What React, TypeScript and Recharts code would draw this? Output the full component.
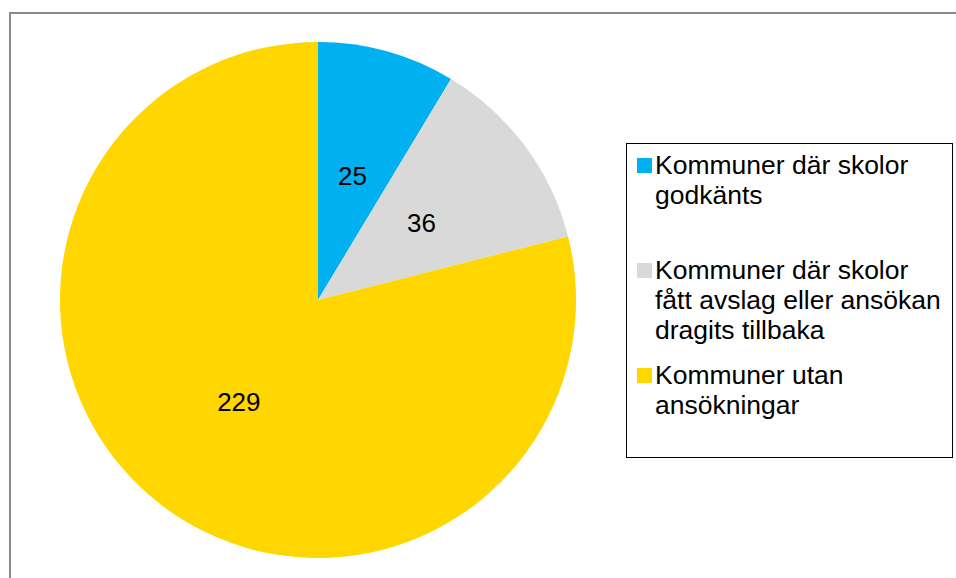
import React from 'react';
import { PieChart, Pie, Cell, Legend } from 'recharts';

const categories = [
  'Kommuner där skolor\ngodkänts',
  'Kommuner där skolor\nfått avslag eller ansökan\ndragits tillbaka',
  'Kommuner utan\nansökningar',
];
const values = [25, 36, 229];
const colors = ['#00B0F0', '#D9D9D9', '#FFD600'];

const data = categories.map((name, i) => ({ name, value: values[i] }));

const FONT = 'Arial, "Liberation Sans", sans-serif';
const RAD = Math.PI / 180;

const renderLabel = (props: any) => {
  const { cx, cy, midAngle, outerRadius, value } = props;
  const r = outerRadius * 0.5;
  const x = cx + r * Math.cos(-midAngle * RAD);
  const y = cy + r * Math.sin(-midAngle * RAD);
  return (
    <text
      x={x}
      y={y}
      fill="#000"
      textAnchor="middle"
      dominantBaseline="central"
      style={{ fontFamily: FONT, fontSize: 26 }}
    >
      {value}
    </text>
  );
};

const renderLegend = () => (
  <div
    style={{
      boxSizing: 'border-box',
      width: 327,
      height: 315,
      border: '1.5px solid #000',
      background: '#fff',
      paddingTop: 6,
      paddingLeft: 10,
      fontFamily: FONT,
      fontSize: 26.5,
      lineHeight: '30px',
      color: '#000',
    }}
  >
    {data.map((d, i) => (
      <div
        key={d.name}
        style={{ display: 'flex', alignItems: 'flex-start', height: 105 }}
      >
        <div
          style={{
            width: 15,
            height: 15,
            background: colors[i],
            marginTop: 8,
            marginRight: 3,
            flex: 'none',
          }}
        />
        <div style={{ whiteSpace: 'pre-line' }}>{d.name}</div>
      </div>
    ))}
  </div>
);

export default function App() {
  return (
    <div
      style={{
        position: 'absolute',
        left: 0,
        top: 0,
        width: 956,
        height: 578,
        overflow: 'hidden',
        background: '#fff',
      }}
    >
      <div
        style={{
          position: 'absolute',
          left: 9,
          top: 12,
          width: 1000,
          height: 1000,
          borderLeft: '2px solid #8a8a8a',
          borderTop: '2px solid #8a8a8a',
        }}
      />
      <div style={{ position: 'absolute', left: 0, top: 0 }}>
        <PieChart width={956} height={578} margin={{ top: 0, right: 0, bottom: 0, left: 0 }}>
          <Pie
            data={data}
            dataKey="value"
            nameKey="name"
            cx={318}
            cy={300}
            outerRadius={258}
            startAngle={90}
            endAngle={-270}
            stroke="none"
            labelLine={false}
            label={renderLabel}
            isAnimationActive={false}
          >
            {data.map((d, i) => (
              <Cell key={d.name} fill={colors[i]} />
            ))}
          </Pie>
          <Legend
            content={renderLegend}
            wrapperStyle={{ position: 'absolute', left: 626, top: 143, width: 327, height: 315 }}
          />
        </PieChart>
      </div>
    </div>
  );
}
